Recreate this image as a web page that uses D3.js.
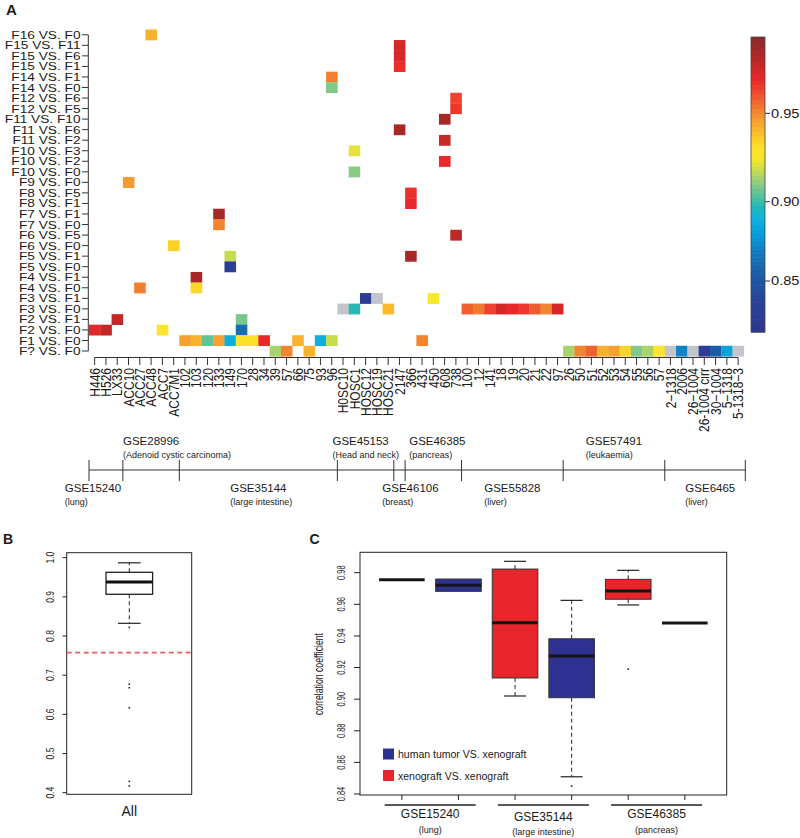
<!DOCTYPE html>
<html><head><meta charset="utf-8">
<script src="https://cdn.jsdelivr.net/npm/d3@7"></script>
<style>body{margin:0;background:#fff} svg{display:block} text{font-family:"Liberation Sans",Arial,Helvetica,sans-serif;fill:#1a1a1a}</style>
</head><body><svg id="c" width="800" height="838"></svg>
<script>
// ---------- DATA ----------
const samples = ["H446","H526","LX33","ACC10","ACC27","ACC48","ACC7","ACC7M1","102","103","120","133","149","170","28","34","39","57","66","75","93","96","H0SC10","HOSC1","HOSC12","HOSC19","HOSC21","2147","366","431","450","608","738","100","12","141","18","19","20","21","22","97","26","50","51","52","53","54","55","56","57","2\u22121318","2006","26\u22121004","26-1004 cirr","30\u22121004","5\u22121318","5-1318\u22123"];
const comparisons = ["F16 VS. F0","F15 VS. F11","F15 VS. F6","F15 VS. F1","F14 VS. F1","F14 VS. F0","F12 VS. F6","F12 VS. F5","F11 VS. F10","F11 VS. F6","F11 VS. F2","F10 VS. F3","F10 VS. F2","F10 VS. F0","F9 VS. F0","F8 VS. F5","F8 VS. F1","F7 VS. F1","F7 VS. F0","F6 VS. F5","F6 VS. F0","F5 VS. F1","F5 VS. F0","F4 VS. F1","F4 VS. F0","F3 VS. F1","F3 VS. F0","F2 VS. F1","F2 VS. F0","F1 VS. F0","F? VS. F0"];
// [sample index, comparison, correlation]  (null = not available, drawn grey)
const cells = [
 [5,"F16 VS. F0",0.942],
 [27,"F15 VS. F11",0.972],[27,"F15 VS. F6",0.971],[27,"F15 VS. F1",0.967],
 [21,"F14 VS. F1",0.952],[21,"F14 VS. F0",0.909],
 [32,"F12 VS. F6",0.962],[32,"F12 VS. F5",0.965],
 [31,"F11 VS. F10",0.982],[27,"F11 VS. F6",0.982],[31,"F11 VS. F2",0.975],
 [23,"F10 VS. F3",0.922],[31,"F10 VS. F2",0.968],[23,"F10 VS. F0",0.910],
 [3,"F9 VS. F0",0.947],
 [28,"F8 VS. F5",0.966],[28,"F8 VS. F1",0.968],
 [11,"F7 VS. F1",0.982],[11,"F7 VS. F0",0.951],
 [32,"F6 VS. F5",0.977],[7,"F6 VS. F0",0.935],
 [12,"F5 VS. F1",0.918],[28,"F5 VS. F1",0.982],[12,"F5 VS. F0",0.830],
 [9,"F4 VS. F1",0.982],[4,"F4 VS. F0",0.952],[9,"F4 VS. F0",0.933],
 [24,"F3 VS. F1",0.830],[25,"F3 VS. F1",null],[30,"F3 VS. F1",0.925],
 [22,"F3 VS. F0",null],[23,"F3 VS. F0",0.898],[26,"F3 VS. F0",0.940],
 [33,"F3 VS. F0",0.957],[34,"F3 VS. F0",0.953],[35,"F3 VS. F0",0.962],[36,"F3 VS. F0",0.972],[37,"F3 VS. F0",0.968],
 [38,"F3 VS. F0",0.965],[39,"F3 VS. F0",0.958],[40,"F3 VS. F0",0.951],[41,"F3 VS. F0",0.972],
 [2,"F2 VS. F1",0.976],[13,"F2 VS. F1",0.908],
 [0,"F2 VS. F0",0.969],[1,"F2 VS. F0",0.976],[6,"F2 VS. F0",0.928],[13,"F2 VS. F0",0.863],
 [8,"F1 VS. F0",0.946],[9,"F1 VS. F0",0.942],[10,"F1 VS. F0",0.905],[11,"F1 VS. F0",0.946],[12,"F1 VS. F0",0.888],
 [13,"F1 VS. F0",0.930],[14,"F1 VS. F0",0.930],[15,"F1 VS. F0",0.968],[18,"F1 VS. F0",0.942],[20,"F1 VS. F0",0.888],
 [21,"F1 VS. F0",0.918],[29,"F1 VS. F0",0.951],
 [16,"F? VS. F0",0.914],[17,"F? VS. F0",0.951],[19,"F? VS. F0",0.942],
 [42,"F? VS. F0",0.914],[43,"F? VS. F0",0.951],[44,"F? VS. F0",0.957],[45,"F? VS. F0",0.942],[46,"F? VS. F0",0.946],
 [47,"F? VS. F0",0.934],[48,"F? VS. F0",0.909],[49,"F? VS. F0",0.914],[50,"F? VS. F0",0.927],[51,"F? VS. F0",null],
 [52,"F? VS. F0",0.871],[53,"F? VS. F0",null],[54,"F? VS. F0",0.830],[55,"F? VS. F0",0.855],[56,"F? VS. F0",0.882],[57,"F? VS. F0",null]
];
const colorStopValues = [0.821,0.837,0.847,0.857,0.868,0.878,0.889,0.897,0.903,0.911,0.918,0.925,0.931,0.939,0.946,0.953,0.961,0.968,0.973,0.982,0.99];
const colorStopHexes  = ["#2E3890","#2A4098","#2450A0","#1A60AA","#1478C0","#0898D8","#10B0E0","#20B8B8","#50C0A0","#90CC80","#C8DC50","#F8E82A","#FDE02A","#FBC02A","#F5A030","#F07A30","#EE4A2E","#E8282A","#D02828","#A82828","#8B2A2A"];
const colorbarTicks = [0.85,0.90,0.95];
const colorbarRange = [0.82,0.99];
// dataset groups (column index spans)
const upperGroups = [
 {name:"GSE28996",sub:"(Adenoid cystic carcinoma)",from:3,to:8},
 {name:"GSE45153",sub:"(Head and neck)",from:22,to:27},
 {name:"GSE46385",sub:"(pancreas)",from:28,to:33},
 {name:"GSE57491",sub:"(leukaemia)",from:42,to:51}];
const lowerGroups = [
 {name:"GSE15240",sub:"(lung)",from:0,to:3},
 {name:"GSE35144",sub:"(large intestine)",from:8,to:22},
 {name:"GSE46106",sub:"(breast)",from:27,to:28},
 {name:"GSE55828",sub:"(liver)",from:33,to:42},
 {name:"GSE6465",sub:"(liver)",from:51,to:58}];
const groupBoundaries = [0,3,8,22,27,28,33,42,51,58];
// panel B
const allStats = {lo:0.8325,q1:0.9066,med:0.938,q3:0.9627,hi:0.987};
const allOutliers = [0.822,0.677,0.668,0.617,0.429,0.417];
const threshold = 0.7575;
const bTicks = [0.4,0.5,0.6,0.7,0.8,0.9,1.0];
// panel C
const cBoxes = [
 {type:"xeno",lo:0.9756,q1:0.9756,med:0.9756,q3:0.9756,hi:0.9756,out:[]},
 {type:"human",lo:0.9682,q1:0.9682,med:0.9720,q3:0.9760,hi:0.9760,out:[]},
 {type:"xeno",lo:0.902,q1:0.9134,med:0.9484,q3:0.9823,hi:0.9872,out:[]},
 {type:"human",lo:0.8509,q1:0.9009,med:0.9273,q3:0.9382,hi:0.9625,out:[0.845]},
 {type:"xeno",lo:0.9596,q1:0.9632,med:0.9684,q3:0.9758,hi:0.9815,out:[0.919]},
 {type:"human",lo:0.9482,q1:0.9482,med:0.9482,q3:0.9482,hi:0.9482,out:[]}];
const cTicks = [0.84,0.86,0.88,0.90,0.92,0.94,0.96,0.98];
const cGroups = [
 {name:"GSE15240",sub:"(lung)",first:1,last:2},
 {name:"GSE35144",sub:"(large intestine)",first:3,last:4},
 {name:"GSE46385",sub:"(pancreas)",first:5,last:6}];
const legendItems = [{type:"human",label:"human tumor VS. xenograft"},{type:"xeno",label:"xenograft VS. xenograft"}];
const typeColors = {human:"#2E3192",xeno:"#E8252B"};

// ---------- DRAW ----------
const svg = d3.select("#c");
const color = d3.scaleLinear().domain(colorStopValues).range(colorStopHexes).interpolate(d3.interpolateRgb).clamp(true);
const NA = "#C2C5CC";

// Panel A
const A = svg.append("g");
const x = d3.scaleBand().domain(d3.range(samples.length)).range([89,743.8]);
const y = d3.scaleBand().domain(comparisons).range([29.5,356.3]);
const xe = d3.scaleLinear().domain([0,samples.length]).range([89,743.8]);

A.selectAll("rect.cell").data(cells).join("rect").attr("class","cell")
 .attr("x",d=>x(d[0])).attr("y",d=>y(d[1]))
 .attr("width",x.bandwidth()+0.3).attr("height",y.bandwidth()+0.3)
 .attr("fill",d=>d[2]==null?NA:color(d[2]));

// y axis
const yc = d=>y(d)+y.bandwidth()/2;
A.append("line").attr("x1",88.3).attr("x2",88.3).attr("y1",yc(comparisons[0])).attr("y2",yc(comparisons[comparisons.length-1])).attr("stroke","#333");
A.selectAll("line.yt").data(comparisons).join("line").attr("class","yt")
 .attr("x1",82).attr("x2",88.3).attr("y1",yc).attr("y2",yc).attr("stroke","#333");
A.selectAll("text.yl").data(comparisons).join("text").attr("class","yl")
 .attr("transform",d=>`translate(80.5,${yc(d)}) scale(1.19,1)`)
 .attr("text-anchor","end").attr("dy","0.35em").attr("font-size",11.5).text(d=>d);

// x axis
const xc = i=>x(i)+x.bandwidth()/2;
A.append("line").attr("x1",xc(0)).attr("x2",xc(samples.length-1)).attr("y1",357.5).attr("y2",357.5).attr("stroke","#333");
A.selectAll("line.xt").data(d3.range(samples.length)).join("line").attr("class","xt")
 .attr("x1",xc).attr("x2",xc).attr("y1",357.5).attr("y2",365).attr("stroke","#333");
A.selectAll("text.xl").data(samples).join("text").attr("class","xl")
 .attr("transform",(d,i)=>`translate(${xc(i)},368) scale(1.2,1) rotate(-90)`)
 .attr("text-anchor","end").attr("dy","0.36em").attr("font-size",12).text(d=>d);

// colorbar
const cb = d3.scaleLinear().domain([0.82,0.85,0.90,0.95,0.99]).range([332,281,201.7,113.3,37]);
const cbVals = d3.range(colorbarRange[0],colorbarRange[1]+1e-9,0.0025);
A.selectAll("rect.cb").data(cbVals).join("rect").attr("class","cb")
 .attr("x",751).attr("width",14)
 .attr("y",d=>cb(Math.min(d+0.0025,colorbarRange[1])))
 .attr("height",d=>cb(d)-cb(Math.min(d+0.0025,colorbarRange[1]))+0.6)
 .attr("fill",d=>color(d+0.00125));
A.append("rect").attr("x",751).attr("y",cb(colorbarRange[1])).attr("width",14)
 .attr("height",cb(colorbarRange[0])-cb(colorbarRange[1])).attr("fill","none").attr("stroke","#444").attr("stroke-width",0.8);
A.selectAll("line.cbt").data(colorbarTicks).join("line").attr("class","cbt")
 .attr("x1",765).attr("x2",770).attr("y1",cb).attr("y2",cb).attr("stroke","#333");
A.selectAll("text.cbl").data(colorbarTicks).join("text").attr("class","cbl")
 .attr("transform",d=>`translate(771,${cb(d)}) scale(1.22,1)`).attr("dy","0.35em").attr("font-size",12)
 .text(d=>d.toFixed(2));

// dataset annotation
const nudge = {GSE15240:-13,GSE46106:11,GSE45153:-5,GSE6465:6,GSE46385:4};
A.append("line").attr("x1",xe(groupBoundaries[0])).attr("x2",xe(groupBoundaries[groupBoundaries.length-1])+1.5)
 .attr("y1",470).attr("y2",470).attr("stroke","#333");
A.selectAll("line.gb").data(groupBoundaries).join("line").attr("class","gb")
 .attr("x1",(d,i)=>xe(d)+(i===groupBoundaries.length-1?1.5:0)).attr("x2",(d,i)=>xe(d)+(i===groupBoundaries.length-1?1.5:0))
 .attr("y1",460).attr("y2",481).attr("stroke","#333");
function groupLabels(list,y1,y2){
  list.forEach(g=>{
    const cx = xe((g.from+g.to)/2)+(nudge[g.name]||0);
    const t = A.append("text").attr("x",cx).attr("y",y1).attr("text-anchor","middle").attr("font-size",11.5).text(g.name);
    const w = t.node().getComputedTextLength();
    A.append("text").attr("x",cx-w/2).attr("y",y2).attr("font-size",9).text(g.sub);
  });
}
groupLabels(upperGroups,445,457.5);
groupLabels(lowerGroups,491.5,505);

// panel letters
svg.append("text").attr("x",6).attr("y",15).attr("font-size",15).attr("font-weight","bold").text("A");
svg.append("text").attr("x",3).attr("y",543.5).attr("font-size",14).attr("font-weight","bold").text("B");
svg.append("text").attr("x",309.5).attr("y",543.5).attr("font-size",14).attr("font-weight","bold").text("C");

// Panel B
const B = svg.append("g");
const yb = d3.scaleLinear().domain([0.4,1.0]).range([792.7,557.7]);
const bcx = 129.3, bhw = 23.3, bsw = 11.3;
B.append("rect").attr("x",66.7).attr("y",552.7).attr("width",125).attr("height",241.6).attr("fill","none").attr("stroke","#222");
B.selectAll("line.t").data(bTicks).join("line").attr("class","t").attr("x1",62.5).attr("x2",66.7).attr("y1",yb).attr("y2",yb).attr("stroke","#222");
B.selectAll("text.t").data(bTicks).join("text").attr("class","t")
 .attr("transform",d=>`translate(53.5,${yb(d)}) scale(1.3,1) rotate(-90)`).attr("text-anchor","middle").attr("font-size",8.5).attr("fill","#333")
 .text(d=>d.toFixed(1));
B.append("line").attr("x1",66.7).attr("x2",191.7).attr("y1",yb(threshold)).attr("y2",yb(threshold))
 .attr("stroke","#E4605E").attr("stroke-width",1.8).attr("stroke-dasharray","5,3.5");
B.append("line").attr("x1",bcx).attr("x2",bcx).attr("y1",yb(allStats.q3)).attr("y2",yb(allStats.hi)).attr("stroke","#222").attr("stroke-dasharray","4,3");
B.append("line").attr("x1",bcx).attr("x2",bcx).attr("y1",yb(allStats.q1)).attr("y2",yb(allStats.lo)).attr("stroke","#222").attr("stroke-dasharray","4,3");
B.append("line").attr("x1",bcx-bsw).attr("x2",bcx+bsw).attr("y1",yb(allStats.hi)).attr("y2",yb(allStats.hi)).attr("stroke","#222").attr("stroke-width",1.2);
B.append("line").attr("x1",bcx-bsw).attr("x2",bcx+bsw).attr("y1",yb(allStats.lo)).attr("y2",yb(allStats.lo)).attr("stroke","#222").attr("stroke-width",1.2);
B.append("rect").attr("x",bcx-bhw).attr("y",yb(allStats.q3)).attr("width",bhw*2).attr("height",yb(allStats.q1)-yb(allStats.q3))
 .attr("fill","#fff").attr("stroke","#222").attr("stroke-width",1.3);
B.append("line").attr("x1",bcx-bhw).attr("x2",bcx+bhw).attr("y1",yb(allStats.med)).attr("y2",yb(allStats.med)).attr("stroke","#111").attr("stroke-width",3);
B.selectAll("rect.o").data(allOutliers).join("rect").attr("class","o").attr("x",bcx-0.8).attr("y",d=>yb(d)-0.8).attr("width",1.6).attr("height",1.6).attr("fill","#222");
B.append("text").attr("x",bcx).attr("y",816).attr("text-anchor","middle").attr("font-size",14).text("All");

// Panel C
const C = svg.append("g");
const xcS = d3.scaleLinear().domain([0.26,6.74]).range([360,726.7]);
const ycS = d3.scaleLinear().domain([0.84,0.98]).range([794,572.7]);
const chw = 22.8, csw = 11;
C.append("rect").attr("x",360).attr("y",552.3).attr("width",366.7).attr("height",242.7).attr("fill","none").attr("stroke","#222");
C.selectAll("line.t").data(cTicks).join("line").attr("class","t").attr("x1",354).attr("x2",360).attr("y1",ycS).attr("y2",ycS).attr("stroke","#222");
C.selectAll("text.t").data(cTicks).join("text").attr("class","t")
 .attr("transform",d=>`translate(344.5,${ycS(d)}) scale(1.45,1) rotate(-90)`).attr("text-anchor","middle").attr("font-size",7.5).attr("fill","#333")
 .text(d=>d.toFixed(2));
C.append("text").attr("transform",`translate(322.5,674) scale(1.4,1) rotate(-90)`).attr("text-anchor","middle").attr("font-size",8.7).attr("fill","#333").text("correlation coefficient");
C.selectAll("line.xt").data(cBoxes).join("line").attr("class","xt")
 .attr("x1",(d,i)=>xcS(i+1)).attr("x2",(d,i)=>xcS(i+1)).attr("y1",795).attr("y2",800).attr("stroke","#222");
cBoxes.forEach((b,i)=>{
  const cx = xcS(i+1);
  const g = C.append("g");
  if (b.hi>b.q3){
    g.append("line").attr("x1",cx).attr("x2",cx).attr("y1",ycS(b.q3)).attr("y2",ycS(b.hi)).attr("stroke","#222").attr("stroke-dasharray","4,3");
    g.append("line").attr("x1",cx-csw).attr("x2",cx+csw).attr("y1",ycS(b.hi)).attr("y2",ycS(b.hi)).attr("stroke","#222").attr("stroke-width",1.2);
  }
  if (b.lo<b.q1){
    g.append("line").attr("x1",cx).attr("x2",cx).attr("y1",ycS(b.q1)).attr("y2",ycS(b.lo)).attr("stroke","#222").attr("stroke-dasharray","4,3");
    g.append("line").attr("x1",cx-csw).attr("x2",cx+csw).attr("y1",ycS(b.lo)).attr("y2",ycS(b.lo)).attr("stroke","#222").attr("stroke-width",1.2);
  }
  if (b.q3>b.q1){
    g.append("rect").attr("x",cx-chw).attr("y",ycS(b.q3)).attr("width",chw*2).attr("height",ycS(b.q1)-ycS(b.q3))
     .attr("fill",typeColors[b.type]).attr("stroke","#333").attr("stroke-width",1);
  }
  g.append("line").attr("x1",cx-chw).attr("x2",cx+chw).attr("y1",ycS(b.med)).attr("y2",ycS(b.med)).attr("stroke","#151515").attr("stroke-width",3);
  g.selectAll("rect.o").data(b.out).join("rect").attr("class","o").attr("x",cx-0.8).attr("y",d=>ycS(d)-0.8).attr("width",1.6).attr("height",1.6).attr("fill","#222");
});
// legend
const lg = C.selectAll("g.lg").data(legendItems).join("g").attr("class","lg").attr("transform",(d,i)=>`translate(383,${748.5+i*21.5})`);
lg.append("rect").attr("width",11).attr("height",11).attr("fill",d=>typeColors[d.type]);
lg.append("text").attr("x",15).attr("y",9.5).attr("font-size",10.5).text(d=>d.label);
// group lines
cGroups.forEach((g,i)=>{
  const a = xcS(g.first), b = xcS(g.last), mid=(a+b)/2;
  C.append("line").attr("x1",mid-45.5).attr("x2",mid+45.5).attr("y1",805).attr("y2",805).attr("stroke","#222").attr("stroke-width",1.3);
  const yy = i===1?820.7:818.3;
  C.append("text").attr("x",mid).attr("y",yy).attr("text-anchor","middle").attr("font-size",12).text(g.name);
  C.append("text").attr("x",mid).attr("y",yy+14.5).attr("text-anchor","middle").attr("font-size",9).text(g.sub);
});
</script></body></html>
